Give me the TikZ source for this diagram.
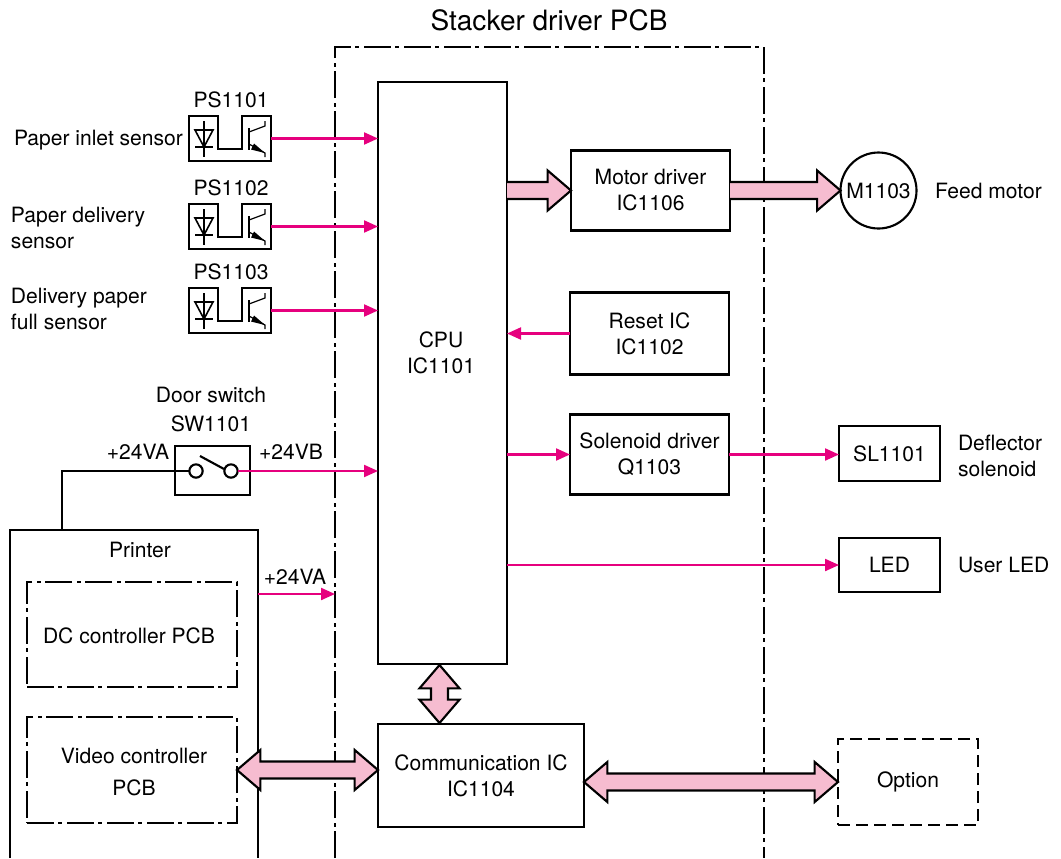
\documentclass[tikz,border=0pt]{standalone}
\usepackage{fontspec}
\setmainfont{TeX Gyre Heros}
\usetikzlibrary{arrows.meta,calc}
\definecolor{sigpink}{HTML}{E6007E}
\definecolor{fatpink}{HTML}{F6BCD0}
\tikzset{
  lbl/.style={inner sep=0pt,outer sep=0pt,font=\fontsize{15.8}{19.5}\selectfont,align=center},
  lbll/.style={lbl,align=left,anchor=west},
  box/.style={draw=black,line width=1.6pt,fill=white,inner sep=0pt,outer sep=0pt,font=\fontsize{15.8}{19.5}\selectfont,align=center},
  ghost/.style={inner sep=0pt,outer sep=0pt},
  ln/.style={draw=black,line width=1.6pt},
  thin part/.style={draw=black,line width=0.9pt},
  dashdot/.style={draw=black,line width=1.6pt,dash pattern=on 20pt off 3.5pt on 3pt off 3.5pt},
  sig/.style={draw=sigpink,line width=1.6pt,-{Triangle[length=10.5pt,width=9pt]}},
  fat/.style={draw=black,fill=fatpink,line width=1.6pt,line join=miter},
}
\newcommand\fatR[2]{\path[fat] let \p1=#1,\p2=#2 in
  (\x1,\y1+6.4pt) -- (\x2-17.5pt,\y1+6.4pt) -- (\x2-17.5pt,\y1+15pt) -- (\x2,\y1)
  -- (\x2-17.5pt,\y1-15pt) -- (\x2-17.5pt,\y1-6.4pt) -- (\x1,\y1-6.4pt);}
\newcommand\fatH[2]{\path[fat] let \p1=#1,\p2=#2 in
  (\x1,\y1) -- (\x1+17.5pt,\y1+15pt) -- (\x1+17.5pt,\y1+6.4pt) -- (\x2-17.5pt,\y1+6.4pt)
  -- (\x2-17.5pt,\y1+15pt) -- (\x2,\y1) -- (\x2-17.5pt,\y1-15pt) -- (\x2-17.5pt,\y1-6.4pt)
  -- (\x1+17.5pt,\y1-6.4pt) -- (\x1+17.5pt,\y1-15pt) -- cycle;}
\newcommand\fatV[2]{\path[fat] let \p1=#1,\p2=#2 in
  (\x1,\y1) -- (\x1+15pt,\y1-17.5pt) -- (\x1+6.4pt,\y1-17.5pt) -- (\x1+6.4pt,\y2+17.5pt)
  -- (\x1+15pt,\y2+17.5pt) -- (\x1,\y2) -- (\x1-15pt,\y2+17.5pt) -- (\x1-6.4pt,\y2+17.5pt)
  -- (\x1-6.4pt,\y1-17.5pt) -- (\x1-15pt,\y1-17.5pt) -- cycle;}
% sensor: name, y of the top edge
\newcommand\sensor[2]{%
  \node[ghost,minimum width=61.5pt,minimum height=33.75pt] (#1) at (230,#2+22.5) {};
  \begin{scope}[yshift={-0.75pt*#2}]
    \draw[ln,line join=miter] (189,0) -- (218,0) -- (218,33) -- (242,33) -- (242,0) -- (271,0) -- (271,45) -- (189,45) -- cycle;
    \draw[thin part] (204,5) -- (204,41);
    \draw[ln,line width=1.2pt] (195,14) -- (213,14) -- (204,31) -- cycle;
    \draw[ln,line width=1.2pt] (195,31) -- (213,31);
    \draw[ln,line width=1.2pt] (249,12) -- (249,34);
    \draw[thin part] (249,16) -- (265,10) -- (265,5);
    \draw[thin part] (249,28) -- (265,37) -- (265,41);
    \fill[black] (265,37) -- (254,27.5) -- (251,33.5) -- cycle;
  \end{scope}}
\begin{document}
\begin{tikzpicture}[x=0.75pt,y=-0.75pt]
\useasboundingbox (0,0) rectangle (1061,858);
% stacker frame
\coordinate (fl) at (335,858);
\coordinate (ftl) at (335,47);
\coordinate (ftr) at (764,47);
\coordinate (fr) at (764,858);
\draw[dashdot] (fl) -- (ftl) -- (ftr) -- (fr);
\node[lbl,font=\fontsize{21}{25}\selectfont] (title) at (549,20) {Stacker driver PCB};
% main blocks
\node[box,minimum width=96.75pt,minimum height=436.5pt] (cpu) at (442.5,373) {};
\node[lbl] (cput) at (441,353) {CPU\\IC1101};
\node[box,minimum width=119.25pt,minimum height=60pt] (mot) at (650.5,190.5) {Motor driver\\IC1106};
\node[box,minimum width=119.25pt,minimum height=61.5pt] (rst) at (649.5,333.5) {Reset IC\\IC1102};
\node[box,minimum width=119.25pt,minimum height=60pt] (sol) at (649.5,454.5) {Solenoid driver\\Q1103};
\node[box,minimum width=154.5pt,minimum height=77.25pt] (comm) at (481,775.5) {Communication IC\\IC1104};
\node[box,circle,minimum size=57pt] (m) at (878.5,190.5) {M1103};
\node[box,minimum width=75.75pt,minimum height=41.25pt] (sl) at (889.5,453.5) {SL1101};
\node[box,minimum width=75.75pt,minimum height=40.5pt] (led) at (889.5,565) {LED};
\node[box,dashed,dash pattern=on 9pt off 4.5pt,minimum width=105pt,minimum height=64.5pt] (opt) at (908,782) {Option};
% printer
\coordinate (pbl) at (10,858);
\coordinate (ptl) at (10,530);
\coordinate (ptr) at (258,530);
\coordinate (pbr) at (258,858);
\draw[ln] (pbl) -- (ptl) -- (ptr) -- (pbr);
\node[lbl] (prn) at (140,550) {Printer};
\node[box,dashdot,minimum width=157.5pt,minimum height=78.75pt] (dc) at (132,634.5) {};
\node[lbl] (dct) at (129,636) {DC controller PCB};
\node[box,dashdot,minimum width=157.5pt,minimum height=79.5pt] (vid) at (132,770) {};
\node[lbl] (vidt) at (134,772) {Video controller\\[4pt]PCB};
% sensors
\sensor{ps1}{116}
\sensor{ps2}{204}
\sensor{ps3}{288}
\node[lbl] (t1) at (231,100) {PS1101};
\node[lbl] (t2) at (231,188) {PS1102};
\node[lbl] (t3) at (231,272) {PS1103};
\node[lbll] (s1) at (14,140) {Paper inlet sensor};
\node[lbll] (s2) at (11,228) {Paper delivery\\sensor};
\node[lbll] (s3) at (11,309) {Delivery paper\\full sensor};
% door switch
\node[ghost,draw=black,line width=1.6pt,minimum width=56.25pt,minimum height=36.75pt] (sw) at (212.5,470.5) {};
\node[ghost,circle,draw=black,line width=1.6pt,minimum size=10pt] (c1) at (196,471) {};
\node[ghost,circle,draw=black,line width=1.6pt,minimum size=10pt] (c2) at (231,471) {};
\coordinate (lev) at (200,456);
\draw[ln] (lev) -- (224,469);
\coordinate (pwr) at (62,530);
\draw[ln] (pwr) |- (c1.west);
\node[lbl] (d1) at (211,395) {Door switch};
\node[lbl] (d2) at (211,424) {SW1101};
\node[lbl] (va1) at (138,452) {+24VA};
\node[lbl] (vb) at (291,452) {+24VB};
\node[lbl] (va2) at (295,577) {+24VA};
% signals
\draw[sig] (ps1.east) -- (ps1.east -| cpu.west);
\draw[sig] (ps2.east) -- (ps2.east -| cpu.west);
\draw[sig] (ps3.east) -- (ps3.east -| cpu.west);
\draw[sig] (c2.east) -- (c2.east -| cpu.west);
\coordinate (pa) at (258,594);
\draw[sig] (pa) -- (pa -| fl);
\draw[sig] (rst.west) -- (rst.west -| cpu.east);
\draw[sig] (sol.west -| cpu.east) -- (sol.west);
\draw[sig] (sol.east) -- (sol.east -| sl.west);
\draw[sig] (led.west -| cpu.east) -- (led.west);
% thick
\fatR{(mot.west -| cpu.east)}{(mot.west)}
\fatR{(mot.east)}{(m.west)}
\coordinate (vt) at (439.5,665);
\coordinate (vb2) at (439.5,723);
\fatV{(vt)}{(vb2)}
\fatH{(vid.east)}{(vid.east -| comm.west)}
\fatH{(opt.west -| comm.east)}{(opt.west)}
% outer labels
\node[lbll] (fm) at (935,191) {Feed motor};
\node[lbll] (ds) at (958,455.5) {Deflector\\solenoid};
\node[lbll] (ul) at (958,565) {User LED};
\end{tikzpicture}
\end{document}
